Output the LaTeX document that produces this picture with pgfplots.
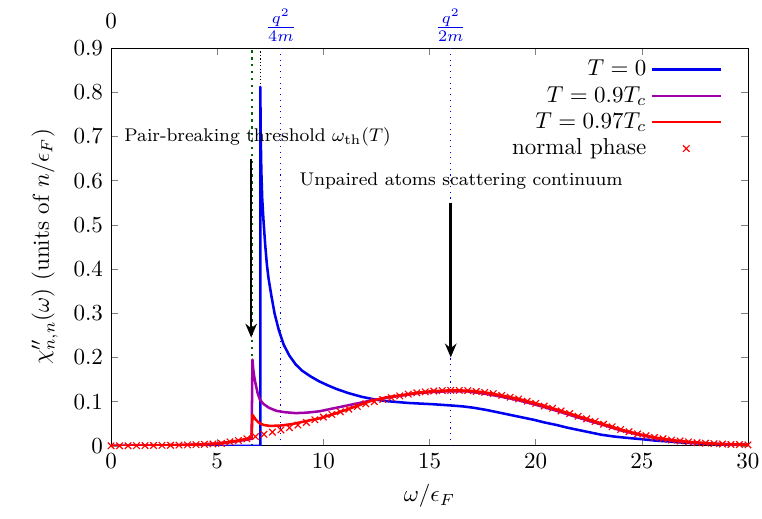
\documentclass[border=0pt]{standalone}
\usepackage{pgfplots}
\pgfplotsset{compat=1.18}
\usetikzlibrary{arrows.meta,calc}
\definecolor{cblue}{RGB}{0,0,240}
\definecolor{cpurple}{RGB}{160,0,170}
\definecolor{cred}{RGB}{255,0,0}
\definecolor{cgreen}{RGB}{0,100,0}
\begin{document}
\begin{tikzpicture}
\begin{axis}[
  scale only axis, width=277pt, height=173pt,
  xmin=0, xmax=30, ymin=0, ymax=0.9,
  xtick={0,5,10,15,20,25,30},
  ytick={0,0.1,0.2,0.3,0.4,0.5,0.6,0.7,0.8,0.9},
  yticklabels={0,0.1,0.2,0.3,0.4,0.5,0.6,0.7,0.8,0.9},
  tick align=inside, major tick length=3pt,
  xtick pos=both, ytick pos=both,
  xticklabel pos=lower, yticklabel pos=left,
  xlabel={$\omega/\epsilon_F$},
  ylabel={$\chi''_{n,n}(\omega)$ (units of $n/\epsilon_F$)},
  clip mode=individual,
  legend cell align=right,
  legend plot pos=right,
  legend image code/.code={\draw[mark repeat=2,mark phase=2,#1] plot coordinates {(0cm,0cm) (0.52cm,0cm) (1.05cm,0cm)};},
  legend style={draw=none, fill=none, at={(1,1)}, anchor=north east, xshift=-8pt, yshift=-1pt, row sep=-0.9pt},
]
\coordinate (LL) at (rel axis cs:0,0);
\coordinate (UR) at (rel axis cs:1,1);
% vertical reference lines
\addplot[cgreen, line width=1pt, dotted, forget plot] coordinates {(6.63,0) (6.63,0.9)};
\addplot[black, densely dotted, line width=0.5pt, forget plot] coordinates {(7.02,0) (7.02,0.9)};
\addplot[cblue, dotted, line width=0.5pt, forget plot] coordinates {(8,0) (8,0.9)};
\addplot[cblue, dotted, line width=0.5pt, forget plot] coordinates {(16,0) (16,0.9)};
% T=0
\addplot[cblue, line width=1.1pt, line join=round] coordinates {
(0,0) (7.03,0) (7.03,0.812) (7.05,0.70) (7.08,0.62) (7.12,0.56) (7.18,0.51) (7.26,0.455) (7.34,0.41) (7.42,0.378) (7.55,0.34) (7.7,0.30) (7.9,0.262) (8.13,0.229) (8.4,0.204) (8.7,0.184) (9.0,0.17) (9.4,0.157) (9.8,0.146) (10.2,0.137) (10.65,0.128) (11.2,0.119) (11.8,0.111) (12.4,0.105) (13,0.101) (13.5,0.099) (14,0.097) (14.6,0.0955) (15.2,0.094) (16.1,0.091) (16.6,0.089) (17.1,0.086) (17.7,0.081) (18.2,0.076) (18.8,0.07) (19.4,0.064) (19.9,0.059) (20.4,0.053) (21,0.047) (21.5,0.041) (22,0.036) (22.6,0.030) (23.1,0.025) (23.7,0.021) (24.3,0.018) (25,0.015) (25.6,0.012) (26.2,0.01) (27,0.007) (28,0.0045) (29,0.003) (30,0.002)};
\addlegendentry{$T=0$}
% T=0.9Tc
\addplot[cpurple, line width=1.1pt, line join=round] coordinates {
(0,0) (1,0.0002) (2,0.0008) (3,0.0015) (4,0.0027) (5,0.005) (5.6,0.0085) (6,0.011) (6.4,0.014) (6.62,0.016) (6.66,0.195) (6.7,0.172) (6.75,0.155) (6.8,0.142) (6.9,0.12) (7,0.106) (7.1,0.099) (7.2,0.094) (7.44,0.086) (7.8,0.079) (8.2,0.076) (8.7,0.074) (9.2,0.075) (9.8,0.078) (10.5,0.085) (11.4,0.094) (12.2,0.102) (13,0.109) (13.6,0.113) (14.4,0.119) (15.2,0.122) (16,0.1235) (16.8,0.123) (17.6,0.118) (18.4,0.111) (19.2,0.103) (20,0.093) (20.8,0.082) (21.6,0.07) (22.4,0.058) (23.2,0.047) (24,0.035) (24.8,0.026) (25.6,0.018) (26.4,0.012) (27.2,0.008) (28,0.006) (28.8,0.004) (29.6,0.003) (30,0.002)};
\addlegendentry{$T=0.9T_c$}
% T=0.97Tc
\addplot[cred, line width=1.1pt, line join=round] coordinates {
(0,0) (1,0.0002) (2,0.0008) (3,0.0015) (4,0.0027) (5,0.005) (5.6,0.009) (6,0.012) (6.4,0.016) (6.62,0.019) (6.66,0.07) (6.72,0.066) (6.8,0.06) (6.9,0.055) (7,0.051) (7.2,0.047) (7.5,0.045) (8,0.046) (8.5,0.049) (9,0.054) (9.8,0.062) (10.5,0.072) (11.4,0.087) (12.2,0.101) (13,0.11) (13.6,0.114) (14.4,0.12) (15.2,0.124) (16,0.1255) (16.8,0.125) (17.6,0.121) (18.4,0.114) (19.2,0.106) (20,0.096) (20.8,0.085) (21.6,0.073) (22.4,0.061) (23.2,0.049) (24,0.037) (24.8,0.027) (25.6,0.019) (26.4,0.013) (27.2,0.009) (28,0.006) (28.8,0.004) (29.6,0.003) (30,0.002)};
\addlegendentry{$T=0.97T_c$}
% normal phase
\addplot[cred, only marks, mark=x, mark size=2pt, line width=0.5pt] coordinates {
(0,0) (0.4,0.0001) (0.8,0.0002) (1.2,0.0004) (1.6,0.0006) (2.0,0.0008) (2.4,0.001) (2.8,0.0013) (3.2,0.0017) (3.6,0.0021) (4.0,0.0027) (4.4,0.0034) (4.8,0.0043) (5.2,0.0055) (5.6,0.009) (6.0,0.012) (6.4,0.016) (6.8,0.021) (7.2,0.026) (7.6,0.031) (8.0,0.036) (8.4,0.041) (8.8,0.047) (9.2,0.053) (9.6,0.059) (10.0,0.065) (10.4,0.071) (10.8,0.077) (11.2,0.083) (11.6,0.089) (12.0,0.095) (12.4,0.1) (12.8,0.105) (13.2,0.109) (13.6,0.113) (14.0,0.117) (14.4,0.12) (14.8,0.122) (15.2,0.124) (15.6,0.125) (16.0,0.1255) (16.4,0.1255) (16.8,0.125) (17.2,0.123) (17.6,0.121) (18.0,0.118) (18.4,0.114) (18.8,0.11) (19.2,0.106) (19.6,0.101) (20.0,0.096) (20.4,0.09) (20.8,0.085) (21.2,0.079) (21.6,0.073) (22.0,0.067) (22.4,0.061) (22.8,0.055) (23.2,0.049) (23.6,0.043) (24.0,0.037) (24.4,0.032) (24.8,0.027) (25.2,0.023) (25.6,0.019) (26.0,0.016) (26.4,0.013) (26.8,0.011) (27.2,0.009) (27.6,0.007) (28.0,0.006) (28.4,0.005) (28.8,0.004) (29.2,0.003) (29.6,0.003) (30.0,0.002)};
\addlegendentry{normal phase}
% annotations
\draw[black, line width=1.1pt, -{Stealth[length=6pt,width=5pt]}] (axis cs:6.6,0.65) -- (axis cs:6.6,0.245);
\draw[black, line width=1.1pt, -{Stealth[length=6pt,width=5pt]}] (axis cs:16,0.55) -- (axis cs:16,0.2);
\node[anchor=west, font=\footnotesize, inner sep=0pt] at (axis cs:0.61,0.70) {Pair-breaking threshold $\omega_{\mathrm{th}}(T)$};
\node[anchor=west, font=\footnotesize, inner sep=0pt] at (axis cs:8.86,0.60) {Unpaired atoms scattering continuum};
\node[anchor=base, inner sep=0pt, yshift=8.3pt] at (axis cs:0,0.9) {0};
\node[anchor=south, inner sep=0pt, yshift=2.6pt, text=cblue] at (axis cs:8,0.9) {$\frac{q^2}{4m}$};
\node[anchor=south, inner sep=0pt, yshift=2.6pt, text=cblue] at (axis cs:16,0.9) {$\frac{q^2}{2m}$};
\end{axis}
\pgfresetboundingbox
\path ($(LL)+(-48.3pt,-31.7pt)$) rectangle ($(UR)+(6.1pt,20.9pt)$);
\end{tikzpicture}
\end{document}
